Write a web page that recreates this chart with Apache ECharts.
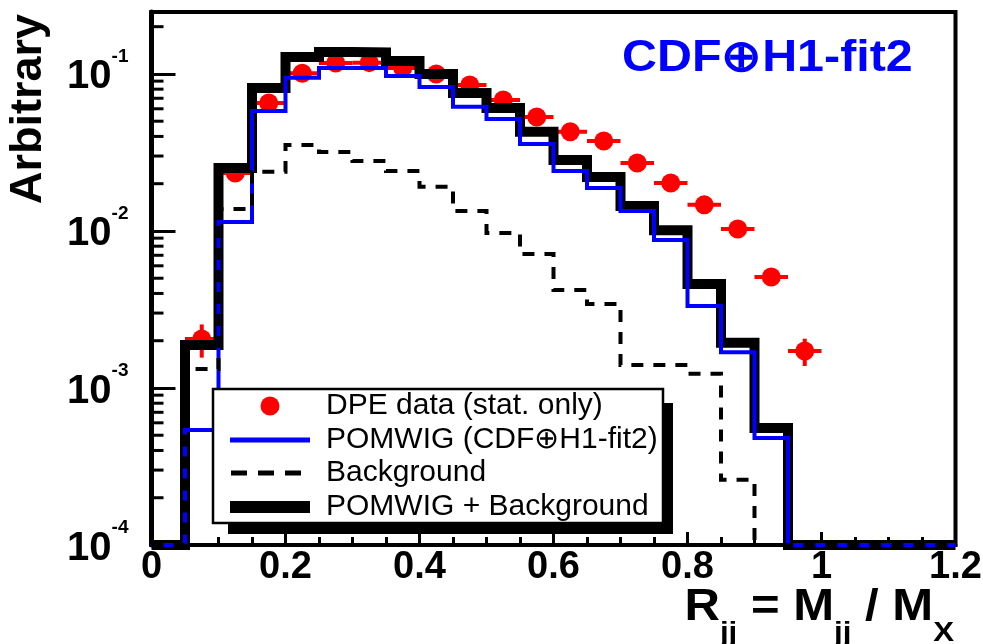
<!DOCTYPE html>
<html><head><meta charset="utf-8">
<script src="https://cdn.jsdelivr.net/npm/echarts@6/dist/echarts.min.js"></script>
<style>html,body{margin:0;padding:0;background:#fff}#c{width:983px;height:644px}</style>
</head><body><div id="c"></div>
<script>
// ---------- data ----------
const binLow = [0, 0.05, 0.1, 0.15, 0.2, 0.25, 0.3, 0.35, 0.4, 0.45, 0.5, 0.55, 0.6, 0.65, 0.7, 0.75, 0.8, 0.85, 0.9, 0.95, 1.0, 1.05, 1.1, 1.15];
const X_MAX = 1.2;
const pomwigPlusBkg = [0, 0.00188, 0.0252, 0.0815, 0.128, 0.138, 0.137, 0.121, 0.100, 0.0757, 0.0607, 0.0428, 0.0283, 0.0221, 0.0144, 0.0101, 0.00459, 0.00194, 0.000556, 0, 0, 0, 0, 0];
const pomwig = [0, 0.00054, 0.0114, 0.058, 0.0944, 0.109, 0.109, 0.097, 0.0826, 0.0617, 0.0516, 0.0358, 0.0241, 0.0188, 0.0134, 0.00877, 0.00333, 0.00169, 0.00048, 0, 0, 0, 0, 0];
const background = [0, 0.00132, 0.0138, 0.0238, 0.0353, 0.0318, 0.0279, 0.0241, 0.0191, 0.0134, 0.0097, 0.00714, 0.0042, 0.00343, 0.0014, 0.0014, 0.00123, 0.00026, 0, 0, 0, 0, 0, 0];
const dpeX = [0.075, 0.125, 0.175, 0.225, 0.275, 0.325, 0.375, 0.425, 0.475, 0.525, 0.575, 0.625, 0.675, 0.725, 0.775, 0.825, 0.875, 0.925, 0.975];
const dpeY = [0.00205, 0.0234, 0.0653, 0.101, 0.1175, 0.118, 0.109, 0.100, 0.085, 0.0682, 0.0532, 0.0428, 0.0374, 0.0271, 0.0202, 0.01466, 0.0103, 0.00509, 0.00172];
const dpeYErr = [0.00049, 0.0012, 0.0025, 0.003, 0.0033, 0.0033, 0.0031, 0.0029, 0.0026, 0.0023, 0.002, 0.0018, 0.0017, 0.0014, 0.0012, 0.001, 0.0008, 0.00055, 0.00034];
const dpeXErr = 0.025;
const Y_MIN = 1e-4, Y_MAX = 0.248;
const legendLabels = ['DPE data (stat. only)', 'POMWIG (CDF\u2295H1-fit2)', 'Background', 'POMWIG + Background'];

// ---------- helpers ----------
const FONT = '"Liberation Sans", Arial, Helvetica, sans-serif';
function stepData(vals) {
  const d = vals.map((v, i) => [binLow[i], v > 0 ? v : Y_MIN]);
  const last = vals[vals.length - 1];
  d.push([X_MAX, last > 0 ? last : Y_MIN]);
  return d;
}
const yMinorTicks = [];
for (let e = -4; e <= -1; e++) for (let k = 2; k <= 9; k++) {
  const v = k * Math.pow(10, e);
  if (v < Y_MAX) yMinorTicks.push([0, v]);
}
function isDecade(v) { const l = Math.log10(v); return Math.abs(l - Math.round(l)) < 1e-6; }

const chart = echarts.init(document.getElementById('c'), null, {renderer: 'canvas'});
const histLine = (name, vals, color, width, type, z) => ({
  name, type: 'line', step: 'end', data: stepData(vals), symbol: 'none', showSymbol: false,
  clip: false, silent: true, z, animation: false,
  lineStyle: {color, width, type, join: 'miter', cap: 'butt'},
  emphasis: {disabled: true}
});

const option = {
  animation: false,
  backgroundColor: '#fff',
  grid: {left: 151.5, top: 12, width: 804, height: 533, show: true, borderColor: '#000', borderWidth: 4, backgroundColor: 'transparent', containLabel: false, outerBoundsMode: 'none'},
  xAxis: {
    type: 'value', min: 0, max: X_MAX, interval: 0.2,
    axisLine: {show: true, onZero: false, lineStyle: {color: '#000', width: 4}},
    axisTick: {show: true, inside: true, length: 13, lineStyle: {color: '#000', width: 3}},
    minorTick: {show: true, splitNumber: 4, length: 8, lineStyle: {color: '#000', width: 3}},
    splitLine: {show: false},
    axisLabel: {color: '#000', fontSize: 38, fontWeight: 'bold', fontFamily: FONT, margin: 4}
  },
  yAxis: {
    type: 'log', logBase: 10, min: Y_MIN, max: Y_MAX,
    axisLine: {show: true, lineStyle: {color: '#000', width: 5}},
    axisTick: {show: true, inside: true, length: 24, lineStyle: {color: '#000', width: 3}},
    splitLine: {show: false},
    axisLabel: {color: '#000', margin: 23,
      formatter: v => isDecade(v) ? '{b|10}{s|' + Math.round(Math.log10(v)) + '}' : '',
      rich: {
        b: {fontSize: 40, fontWeight: 'bold', fontFamily: FONT, color: '#000', padding: [7, 0, 0, 0]},
        s: {fontSize: 19, fontWeight: 'bold', fontFamily: FONT, color: '#000', padding: [0, 0, 34, 0]}
      }}
  },
  series: [
    {
      name: 'errors', type: 'custom', z: 1, silent: true, clip: false,
      data: dpeX.map((x, i) => [x, dpeY[i], dpeYErr[i]]),
      renderItem: (params, api) => {
        const x = api.value(0), y = api.value(1), e = api.value(2);
        const pl = api.coord([x - dpeXErr, y]), pr = api.coord([x + dpeXErr, y]);
        const pt = api.coord([x, y + e]), pb = api.coord([x, y - e]);
        return {type: 'group', children: [
          {type: 'line', shape: {x1: pl[0], y1: pl[1], x2: pr[0], y2: pr[1]}, style: {stroke: '#ff0000', lineWidth: 4}},
          {type: 'line', shape: {x1: pt[0], y1: pt[1], x2: pb[0], y2: pb[1]}, style: {stroke: '#ff0000', lineWidth: 4}}
        ]};
      }
    },
    {
      name: legendLabels[0], type: 'scatter', z: 2, silent: true,
      data: dpeX.map((x, i) => [x, dpeY[i]]), symbol: 'circle', symbolSize: 19,
      itemStyle: {color: '#ff0000', opacity: 1}
    },
    histLine(legendLabels[3], pomwigPlusBkg, '#000', 10, 'solid', 3),
    histLine(legendLabels[1], pomwig, '#0000ff', 4, 'solid', 4),
    histLine(legendLabels[2], background, '#000', 4, [12, 10], 5),
    {
      name: 'yminor', type: 'custom', z: 6, silent: true, clip: false,
      data: yMinorTicks,
      renderItem: (params, api) => {
        const p = api.coord([api.value(0), api.value(1)]);
        return {type: 'line', shape: {x1: p[0], y1: p[1], x2: p[0] + 12, y2: p[1]}, style: {stroke: '#000', lineWidth: 3}};
      }
    }
  ],
  graphic: [
    {type: 'text', x: 28.5, y: 109, rotation: Math.PI / 2, z: 100,
      style: {text: 'Arbitrary', font: 'bold 45px ' + FONT, fill: '#000', align: 'center', verticalAlign: 'middle'}},
    {type: 'text', x: 622, y: 59, scaleX: 1.1, z: 100,
      style: {text: 'CDF\u2295H1-fit2', font: 'bold 44px ' + FONT, fill: '#0000ff', align: 'left', verticalAlign: 'middle'}},
    {type: 'text', x: 954, y: 608, scaleX: 1.115, z: 100,
      style: {text: '{m|R}{s|jj}{m| = M}{s|jj}{m| / M}{s|X}', align: 'right', verticalAlign: 'middle', fill: '#000',
        rich: {
          m: {fontSize: 44, fontWeight: 'bold', fontFamily: FONT, fill: '#000'},
          s: {fontSize: 28, fontWeight: 'bold', fontFamily: FONT, fill: '#000', padding: [51, 0, 0, 0]}
        }}},
    // legend
    {type: 'rect', z: 100, shape: {x: 228, y: 403, width: 445, height: 131}, style: {fill: '#000'}},
    {type: 'rect', z: 101, shape: {x: 213, y: 389, width: 450, height: 134}, style: {fill: '#fff', stroke: '#000', lineWidth: 2.5}},
    {type: 'circle', z: 102, shape: {cx: 270, cy: 406, r: 9.5}, style: {fill: '#ff0000'}},
    {type: 'line', z: 102, shape: {x1: 230, y1: 440, x2: 310, y2: 440}, style: {stroke: '#0000ff', lineWidth: 5}},
    {type: 'line', z: 102, shape: {x1: 231, y1: 473, x2: 310, y2: 473}, style: {stroke: '#000', lineWidth: 5, lineDash: [16, 11]}},
    {type: 'line', z: 102, shape: {x1: 230, y1: 507, x2: 310, y2: 507}, style: {stroke: '#000', lineWidth: 12}},
    ...legendLabels.map((t, i) => ({type: 'text', z: 102, x: 326, y: [406, 440, 473, 507][i],
      style: {text: t, font: '30px ' + FONT, fill: '#000', align: 'left', verticalAlign: 'middle'}}))
  ]
};
chart.setOption(option);
</script>
</body></html>
